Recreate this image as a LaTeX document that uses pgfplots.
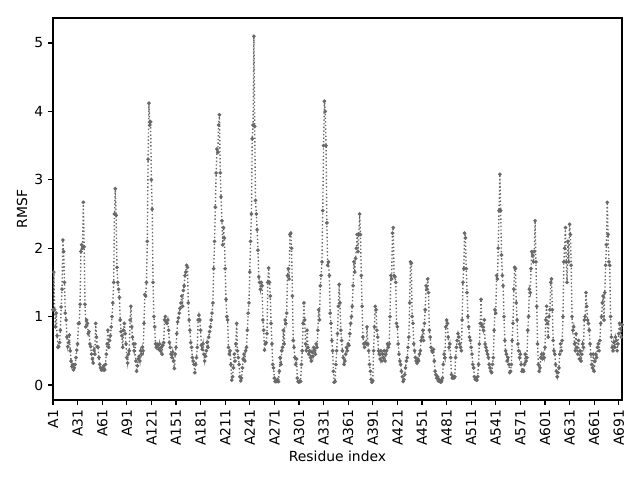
\documentclass[border=0pt]{standalone}
\usepackage{fontspec}
\setmainfont{DejaVu Sans}
\usepackage{pgfplots}
\pgfplotsset{compat=1.18}
\usepackage{pgfplotstable}
\definecolor{dimg}{RGB}{105,105,105}
\pgfplotstableread[row sep=\\]{
y\\
1.1\\ 1.65\\ 1.1\\ 0.85\\ 1.05\\ 0.72\\ 0.55\\ 0.56\\ 0.62\\ 0.8\\
1.14\\ 1.4\\ 2.12\\ 1.95\\ 1.5\\ 1.05\\ 0.95\\ 0.7\\ 0.56\\ 0.62\\
0.73\\ 0.5\\ 0.35\\ 0.27\\ 0.3\\ 0.22\\ 0.25\\ 0.3\\ 0.4\\ 0.51\\
0.6\\ 0.9\\ 0.9\\ 1.18\\ 1.95\\ 2.05\\ 2.0\\ 2.67\\ 2.02\\ 1.18\\
0.85\\ 0.95\\ 0.9\\ 0.75\\ 0.78\\ 0.6\\ 0.56\\ 0.45\\ 0.38\\ 0.32\\
0.51\\ 0.45\\ 0.9\\ 0.7\\ 0.56\\ 0.55\\ 0.4\\ 0.3\\ 0.25\\ 0.22\\
0.25\\ 0.22\\ 0.28\\ 0.22\\ 0.3\\ 0.45\\ 0.6\\ 0.8\\ 0.55\\ 0.65\\
0.72\\ 0.85\\ 1.0\\ 1.2\\ 1.5\\ 2.5\\ 2.87\\ 2.48\\ 1.72\\ 1.5\\
1.4\\ 1.28\\ 0.95\\ 0.78\\ 0.72\\ 0.55\\ 0.8\\ 0.9\\ 0.75\\ 0.6\\
0.4\\ 0.32\\ 0.45\\ 0.5\\ 0.95\\ 1.15\\ 0.85\\ 0.7\\ 0.6\\ 0.5\\
0.6\\ 0.35\\ 0.2\\ 0.28\\ 0.38\\ 0.42\\ 0.35\\ 0.5\\ 0.45\\ 0.55\\
0.5\\ 0.9\\ 1.32\\ 1.3\\ 1.5\\ 2.1\\ 3.3\\ 4.12\\ 3.8\\ 3.85\\
3.0\\ 2.57\\ 1.5\\ 1.0\\ 0.85\\ 0.6\\ 0.55\\ 0.6\\ 0.58\\ 0.52\\
0.6\\ 0.5\\ 0.55\\ 0.45\\ 0.58\\ 0.62\\ 0.95\\ 1.0\\ 0.92\\ 0.9\\
0.95\\ 0.8\\ 0.62\\ 0.55\\ 0.45\\ 0.4\\ 0.48\\ 0.35\\ 0.24\\ 0.45\\
0.55\\ 0.75\\ 0.92\\ 0.98\\ 1.05\\ 1.12\\ 1.2\\ 1.3\\ 1.15\\ 1.38\\
1.45\\ 1.6\\ 1.65\\ 1.75\\ 1.72\\ 1.2\\ 0.95\\ 0.8\\ 0.62\\ 0.55\\
0.4\\ 0.35\\ 0.3\\ 0.18\\ 0.3\\ 0.4\\ 0.55\\ 0.95\\ 1.02\\ 0.95\\
0.8\\ 0.58\\ 0.52\\ 0.6\\ 0.45\\ 0.35\\ 0.42\\ 0.5\\ 0.62\\ 0.55\\
0.7\\ 0.78\\ 0.85\\ 0.95\\ 1.05\\ 1.2\\ 1.7\\ 2.1\\ 2.6\\ 3.1\\
3.45\\ 3.4\\ 3.8\\ 3.95\\ 3.1\\ 2.75\\ 2.4\\ 2.05\\ 2.3\\ 2.15\\
1.7\\ 1.25\\ 1.0\\ 0.95\\ 0.55\\ 0.45\\ 0.5\\ 0.3\\ 0.07\\ 0.12\\
0.25\\ 0.45\\ 0.35\\ 0.6\\ 0.9\\ 0.5\\ 0.4\\ 0.3\\ 0.12\\ 0.06\\
0.1\\ 0.25\\ 0.38\\ 0.45\\ 0.35\\ 0.5\\ 0.55\\ 0.8\\ 1.05\\ 1.2\\
1.65\\ 2.1\\ 2.5\\ 3.6\\ 3.8\\ 5.1\\ 3.78\\ 2.7\\ 2.5\\ 2.27\\
1.97\\ 1.58\\ 1.5\\ 1.4\\ 1.5\\ 1.45\\ 0.95\\ 0.8\\ 0.51\\ 0.6\\
0.62\\ 0.75\\ 1.5\\ 1.71\\ 1.5\\ 1.3\\ 0.9\\ 0.6\\ 0.3\\ 0.25\\
0.1\\ 0.05\\ 0.06\\ 0.05\\ 0.08\\ 0.05\\ 0.2\\ 0.4\\ 0.3\\ 0.5\\
0.55\\ 0.8\\ 0.6\\ 0.95\\ 0.9\\ 1.05\\ 1.6\\ 1.7\\ 1.55\\ 2.2\\
2.22\\ 2.0\\ 1.3\\ 0.65\\ 0.55\\ 0.4\\ 0.3\\ 0.38\\ 0.1\\ 0.05\\
0.04\\ 0.06\\ 0.05\\ 0.3\\ 0.5\\ 0.9\\ 1.2\\ 0.95\\ 0.6\\ 0.5\\
0.8\\ 0.55\\ 0.45\\ 0.5\\ 0.4\\ 0.35\\ 0.48\\ 0.42\\ 0.55\\ 0.5\\
0.45\\ 0.6\\ 0.55\\ 0.8\\ 1.1\\ 0.95\\ 1.45\\ 1.6\\ 1.8\\ 2.55\\
3.5\\ 4.15\\ 4.0\\ 3.5\\ 2.37\\ 1.75\\ 1.8\\ 1.6\\ 1.05\\ 0.9\\
0.65\\ 0.5\\ 0.2\\ 0.04\\ 0.05\\ 0.3\\ 0.5\\ 0.75\\ 1.15\\ 1.47\\
1.2\\ 0.8\\ 0.65\\ 0.5\\ 0.4\\ 0.3\\ 0.35\\ 0.45\\ 0.55\\ 0.5\\
0.6\\ 0.58\\ 0.75\\ 0.9\\ 1.0\\ 1.15\\ 1.45\\ 1.8\\ 1.65\\ 1.85\\
2.0\\ 2.2\\ 1.95\\ 2.2\\ 2.5\\ 2.2\\ 1.6\\ 1.15\\ 0.7\\ 0.6\\
0.55\\ 0.62\\ 0.6\\ 0.85\\ 0.6\\ 0.5\\ 0.3\\ 0.2\\ 0.08\\ 0.04\\
0.06\\ 0.5\\ 0.85\\ 1.15\\ 1.1\\ 0.8\\ 0.7\\ 0.5\\ 0.45\\ 0.38\\
0.5\\ 0.35\\ 0.45\\ 0.4\\ 0.5\\ 0.35\\ 0.45\\ 0.5\\ 0.6\\ 0.55\\
0.6\\ 1.0\\ 1.6\\ 1.55\\ 2.22\\ 2.3\\ 1.6\\ 1.58\\ 1.5\\ 0.9\\
0.85\\ 0.6\\ 0.45\\ 0.35\\ 0.3\\ 0.2\\ 0.12\\ 0.05\\ 0.08\\ 0.15\\
0.25\\ 0.35\\ 0.4\\ 0.55\\ 0.7\\ 1.2\\ 1.8\\ 1.78\\ 1.0\\ 0.9\\
0.6\\ 0.5\\ 0.4\\ 0.35\\ 0.32\\ 0.38\\ 0.35\\ 0.45\\ 0.5\\ 0.65\\
0.7\\ 0.8\\ 0.65\\ 0.9\\ 1.1\\ 1.45\\ 1.4\\ 1.55\\ 1.35\\ 0.8\\
0.7\\ 0.55\\ 0.5\\ 0.48\\ 0.52\\ 0.35\\ 0.2\\ 0.15\\ 0.1\\ 0.12\\
0.06\\ 0.08\\ 0.05\\ 0.04\\ 0.06\\ 0.1\\ 0.3\\ 0.45\\ 0.4\\ 0.85\\
0.95\\ 0.9\\ 0.7\\ 0.55\\ 0.6\\ 0.4\\ 0.15\\ 0.1\\ 0.12\\ 0.1\\
0.12\\ 0.4\\ 0.55\\ 0.65\\ 0.75\\ 0.7\\ 0.6\\ 0.55\\ 0.5\\ 0.95\\
1.5\\ 1.7\\ 2.22\\ 2.15\\ 1.7\\ 1.35\\ 1.0\\ 0.85\\ 0.7\\ 0.65\\
0.55\\ 0.45\\ 0.3\\ 0.25\\ 0.12\\ 0.08\\ 0.1\\ 0.07\\ 0.12\\ 0.3\\
0.6\\ 0.9\\ 1.25\\ 0.88\\ 0.85\\ 0.8\\ 0.95\\ 0.6\\ 0.55\\ 0.5\\
0.45\\ 0.4\\ 0.3\\ 0.25\\ 0.2\\ 0.18\\ 0.3\\ 0.4\\ 0.8\\ 1.1\\
1.05\\ 1.6\\ 1.55\\ 2.0\\ 2.55\\ 3.08\\ 2.55\\ 1.9\\ 1.6\\ 1.45\\
1.0\\ 0.65\\ 0.5\\ 0.45\\ 0.35\\ 0.4\\ 0.3\\ 0.18\\ 0.2\\ 0.3\\
0.65\\ 0.9\\ 1.4\\ 1.72\\ 1.7\\ 1.2\\ 0.95\\ 0.6\\ 0.5\\ 0.4\\
0.45\\ 0.3\\ 0.2\\ 0.22\\ 0.2\\ 0.3\\ 0.45\\ 0.35\\ 0.4\\ 0.8\\
1.0\\ 1.4\\ 1.35\\ 1.7\\ 1.95\\ 1.9\\ 1.8\\ 1.95\\ 2.4\\ 1.8\\
1.15\\ 0.6\\ 0.3\\ 0.2\\ 0.25\\ 0.4\\ 0.45\\ 0.38\\ 0.45\\ 0.4\\
0.55\\ 0.95\\ 1.15\\ 0.9\\ 0.7\\ 1.0\\ 1.1\\ 1.5\\ 1.55\\ 1.1\\
0.65\\ 0.5\\ 0.45\\ 0.3\\ 0.2\\ 0.12\\ 0.18\\ 0.25\\ 0.45\\ 0.6\\
0.5\\ 0.65\\ 1.0\\ 1.8\\ 2.0\\ 2.3\\ 1.8\\ 1.5\\ 2.1\\ 1.8\\
2.35\\ 2.2\\ 1.75\\ 1.0\\ 0.8\\ 0.85\\ 0.6\\ 0.5\\ 0.75\\ 0.55\\
0.45\\ 0.65\\ 0.38\\ 0.5\\ 0.35\\ 0.45\\ 0.6\\ 0.55\\ 0.95\\ 1.0\\
1.35\\ 1.15\\ 0.95\\ 0.9\\ 0.8\\ 0.6\\ 0.45\\ 0.3\\ 0.25\\ 0.45\\
0.2\\ 0.35\\ 0.45\\ 0.4\\ 0.55\\ 0.6\\ 0.5\\ 0.65\\ 0.9\\ 1.0\\
1.2\\ 1.3\\ 0.95\\ 1.35\\ 1.75\\ 2.05\\ 2.67\\ 2.2\\ 1.8\\ 1.75\\
1.0\\ 0.7\\ 0.55\\ 0.5\\ 0.62\\ 0.55\\ 0.7\\ 0.65\\ 0.5\\ 0.6\\
0.75\\ 0.9\\ 0.82\\ 0.7\\ 0.88\\
}\rmsf
\begin{document}
\begin{tikzpicture}
\path[use as bounding box] (0,0) rectangle (460.8pt,345.6pt);
\begin{axis}[
  at={(38.16pt,57.6pt)}, anchor=south west,
  scale only axis, width=409.7pt, height=275pt,
  xmin=0, xmax=694, ymin=-0.22, ymax=5.365,
  xtick={0,30,...,690},
  xticklabels={A1,A31,A61,A91,A121,A151,A181,A211,A241,A271,A301,A331,A361,A391,A421,A451,A481,A511,A541,A571,A601,A631,A661,A691},
  xticklabel style={rotate=90, anchor=east},
  ytick={0,1,2,3,4,5},
  tick align=outside, tick pos=left,
  major tick length=3.5pt,
  axis line style={line width=0.8pt},
  major tick style={line width=0.8pt, black},
  /pgf/number format/assume math mode=true,
  ticklabel style={font=\fontsize{10}{12}\selectfont},
  label style={font=\fontsize{10}{12}\selectfont},
  xlabel={Residue index}, ylabel={RMSF},
  xlabel style={at={([yshift=-44.6pt]axis description cs:0.5,0)}, anchor=base},
  ylabel style={at={([xshift=-22.3pt]axis description cs:0,0.5)}, anchor=center},
]
\addplot[color=dimg, line width=1pt, dash pattern=on 1pt off 1.6pt,
  mark=*, mark size=0.75pt, mark options={solid, fill=dimg, draw=dimg}]
  table[x expr=\coordindex, y=y] {\rmsf};
\end{axis}
\end{tikzpicture}
\end{document}
